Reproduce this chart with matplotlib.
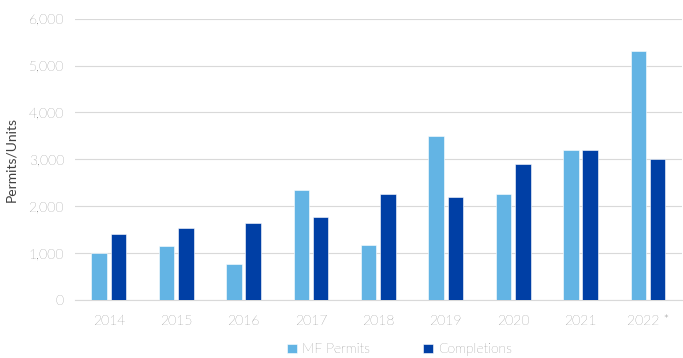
import matplotlib.pyplot as plt
import numpy as np

plt.rcParams['font.family'] = ['Lato', 'DejaVu Sans']
plt.rcParams['font.weight'] = 'light'

years = ['2014', '2015', '2016', '2017', '2018', '2019', '2020', '2021', '2022 *']
mf_permits = [1000, 1155, 775, 2340, 1170, 3500, 2260, 3190, 5310]
completions = [1405, 1530, 1640, 1760, 2260, 2190, 2890, 3190, 3000]

light = '#63b4e4'
dark = '#003fa5'
grey = '#404040'

fig = plt.figure(figsize=(6.83, 3.58), dpi=100)
ax = fig.add_axes([0.11, 0.162, 0.888, 0.786])

x = np.arange(len(years))
w = 0.23
ax.bar(x - 0.143, mf_permits, w, color=light, edgecolor='white', linewidth=0.4, label='MF Permits', zorder=3)
ax.bar(x + 0.143, completions, w, color=dark, edgecolor='white', linewidth=0.4, label='Completions', zorder=3)

ax.set_xlim(-0.5, len(years) - 0.5)
ax.set_ylim(0, 6000)
ax.set_yticks(np.arange(0, 6001, 1000))
ax.yaxis.set_major_formatter(plt.FuncFormatter(lambda v, p: f'{int(v):,}'))
ax.set_xticks(x)
ax.set_xticklabels(years)
ax.grid(axis='y', color='#d9d9d9', linewidth=0.8, zorder=0)
for s in ['top', 'right', 'left']:
    ax.spines[s].set_visible(False)
ax.spines['bottom'].set_color('#d9d9d9')
ax.tick_params(axis='y', length=0, labelsize=10, labelcolor=grey, pad=8)
ax.tick_params(axis='x', length=0, labelsize=10, labelcolor=grey, pad=11)
ax.set_ylabel('Permits/Units', fontsize=10, color=grey, labelpad=8)

ax.legend(loc='upper center', bbox_to_anchor=(0.535, -0.11), ncol=2, frameon=False,
          fontsize=10, labelcolor=grey, handlelength=0.7, handleheight=0.7,
          handletextpad=0.4, columnspacing=3.8)

fig.savefig('out.png', dpi=100)
